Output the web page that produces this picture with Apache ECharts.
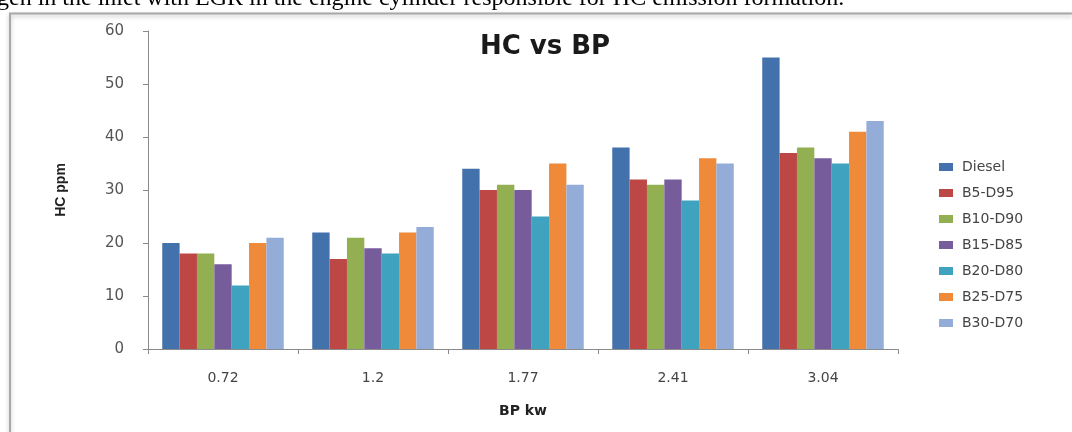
<!DOCTYPE html>
<html>
<head>
<meta charset="utf-8">
<script src="https://cdn.jsdelivr.net/npm/echarts@6/dist/echarts.min.js"></script>
<style>
  html, body { margin: 0; padding: 0; background: #fff; }
  #chart { width: 1072px; height: 432px; }
</style>
</head>
<body>
<div id="chart"></div>
<script>
// Brake power (kW) categories and HC emission (ppm) per fuel blend
const categories = ['0.72', '1.2', '1.77', '2.41', '3.04'];
const seriesNames = ['Diesel', 'B5-D95', 'B10-D90', 'B15-D85', 'B20-D80', 'B25-D75', 'B30-D70'];
const diesel  = [20, 22, 34, 38, 55];
const b5d95   = [18, 17, 30, 32, 37];
const b10d90  = [18, 21, 31, 31, 38];
const b15d85  = [16, 19, 30, 32, 36];
const b20d80  = [12, 18, 25, 28, 35];
const b25d75  = [20, 22, 35, 36, 41];
const b30d70  = [21, 23, 31, 35, 43];
const yTicks = [0, 10, 20, 30, 40, 50, 60];

const seriesValues = [diesel, b5d95, b10d90, b15d85, b20d80, b25d75, b30d70];
const colors = ['#4271AB', '#BC4744', '#92B051', '#775C9B', '#3FA2BE', '#EE8A3A', '#94ACD8'];

const chart = echarts.init(document.getElementById('chart'), null, { renderer: 'canvas' });

chart.setOption({
  backgroundColor: '#fff',
  animation: false,
  color: colors,
  title: {
    text: 'HC vs BP',
    left: 540,
    top: 29,
    textAlign: 'center',
    textStyle: {
      fontFamily: 'DejaVu Sans',
      fontWeight: 'bold',
      fontSize: 26,
      color: '#1a1a1a'
    }
  },
  graphic: [
    {
      type: 'text',
      left: -3,
      top: -13,
      style: {
        text: 'gen in the inlet with EGR in the engine cylinder responsible for HC emission formation.',
        font: '24px "Liberation Serif"',
        fill: '#000'
      },
      z: 10
    },
    {
      type: 'polyline',
      shape: { points: [[10, 432], [10, 13.5], [1072, 13.5]] },
      style: {
        stroke: '#a8a8a8',
        lineWidth: 2,
        fill: null,
        shadowColor: 'rgba(0,0,0,0.25)',
        shadowBlur: 4,
        shadowOffsetY: 2
      },
      z: 5
    }
  ],
  legend: {
    orient: 'vertical',
    left: 934,
    top: 155,
    itemWidth: 14,
    itemHeight: 8,
    itemGap: 12,
    icon: 'rect',
    data: seriesNames,
    textStyle: {
      fontFamily: 'DejaVu Sans',
      fontSize: 14,
      color: '#444',
      padding: [0, 0, 0, 4]
    }
  },
  grid: {
    left: 148,
    top: 31,
    width: 750,
    height: 318,
    containLabel: false
  },
  xAxis: {
    type: 'category',
    data: categories,
    name: 'BP kw',
    nameLocation: 'middle',
    nameGap: 55,
    nameTextStyle: {
      fontFamily: 'DejaVu Sans',
      fontWeight: 'bold',
      fontSize: 14,
      color: '#222'
    },
    axisLine: { lineStyle: { color: '#8a8a8a', width: 1 } },
    axisTick: { show: true, length: 5, lineStyle: { color: '#8a8a8a' } },
    axisLabel: {
      fontFamily: 'DejaVu Sans',
      fontSize: 14,
      color: '#444',
      margin: 22
    }
  },
  yAxis: {
    type: 'value',
    min: yTicks[0],
    max: yTicks[yTicks.length - 1],
    interval: 10,
    name: 'HC ppm',
    nameLocation: 'middle',
    nameRotate: 90,
    nameGap: 80,
    nameTextStyle: {
      fontFamily: 'Liberation Sans',
      fontWeight: 'bold',
      fontSize: 14,
      color: '#222'
    },
    axisLine: { show: true, lineStyle: { color: '#8a8a8a', width: 1 } },
    axisTick: { show: true, length: 5, lineStyle: { color: '#8a8a8a' } },
    splitLine: { show: false },
    axisLabel: {
      fontFamily: 'DejaVu Sans',
      fontSize: 15,
      color: '#555',
      margin: 24
    }
  },
  series: seriesNames.map((name, i) => ({
    name: name,
    type: 'bar',
    data: seriesValues[i],
    barGap: '0%',
    barCategoryGap: '19%',
    itemStyle: { color: colors[i] }
  }))
});
</script>
</body>
</html>
